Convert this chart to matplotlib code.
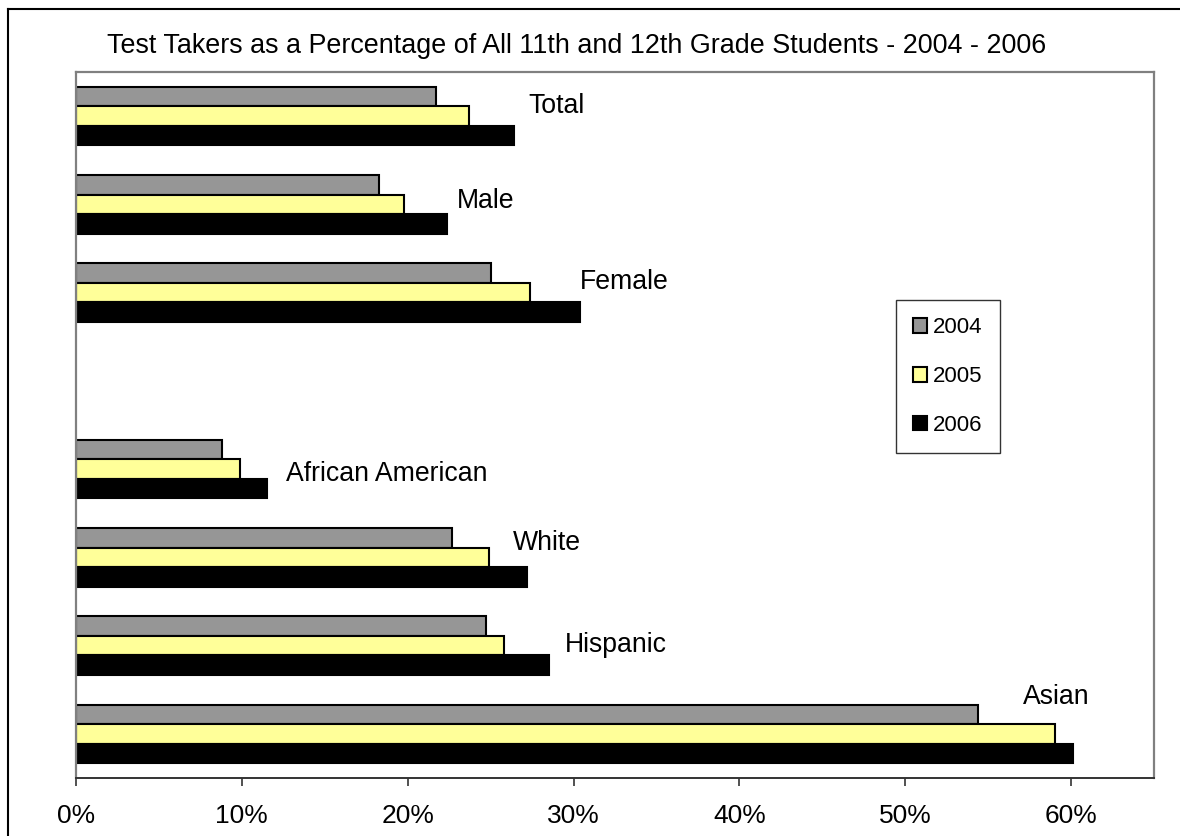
import numpy as np
import matplotlib
matplotlib.use("Agg")
import matplotlib.pyplot as plt
from matplotlib.lines import Line2D
from matplotlib.patches import Patch

plt.rcParams['font.family'] = ['Liberation Sans', 'DejaVu Sans']

# ---- data ----
categories = ["Total", "Male", "Female", "", "African American", "White", "Hispanic", "Asian"]
years = ["2004", "2005", "2006"]
v2004 = [0.217, 0.183, 0.250, np.nan, 0.088, 0.227, 0.247, 0.544]
v2005 = [0.237, 0.198, 0.274, np.nan, 0.099, 0.249, 0.258, 0.590]
v2006 = [0.264, 0.224, 0.304, np.nan, 0.115, 0.272, 0.285, 0.601]
xticks = [0.0, 0.1, 0.2, 0.3, 0.4, 0.5, 0.6]
xtick_labels = ["0%", "10%", "20%", "30%", "40%", "50%", "60%"]
title = "Test Takers as a Percentage of All 11th and 12th Grade Students - 2004 - 2006"

# label placement (data coords: x left edge, y center)
label_pos = {
    "Total": (0.2725, -0.12),
    "Male": (0.230, 0.96),
    "Female": (0.304, 1.88),
    "African American": (0.127, 4.055),
    "White": (0.2633, 4.84),
    "Hispanic": (0.2948, 5.99),
    "Asian": (0.5708, 6.58),
}

colors = ["#969696", "#FFFF99", "#000000"]

W, H = 1180, 836
fig = plt.figure(figsize=(W / 100, H / 100), dpi=100)

# outer frame (left and top visible)
fig.add_artist(Line2D([7.5 / W, 7.5 / W], [0, 1 - 9 / H], transform=fig.transFigure, color="black", lw=1.5))
fig.add_artist(Line2D([7.5 / W, 1], [1 - 9 / H, 1 - 9 / H], transform=fig.transFigure, color="black", lw=1.5))

ax_l, ax_r, ax_t, ax_b = 75.7, 1154.3, 72, 778
ax = fig.add_axes([ax_l / W, 1 - ax_b / H, (ax_r - ax_l) / W, (ax_b - ax_t) / H])

y = np.arange(len(categories))
bh = 0.221
series = [v2004, v2005, v2006]
for i, (vals, c, yr) in enumerate(zip(series, colors, years)):
    ax.barh(y + (i - 1) * bh, vals, height=bh, color=c, edgecolor="black", linewidth=1.5, label=yr)

ax.set_xlim(0, 0.65)
ax.set_ylim(len(categories) - 0.5, -0.5)
ax.set_yticks([])
ax.set_xticks(xticks)
ax.set_xticklabels(xtick_labels)
ax.tick_params(axis="x", direction="out", length=6, width=1.2, color="#333333", labelsize=19, pad=13)

for s in ["left", "top", "right"]:
    ax.spines[s].set_color("#808080")
    ax.spines[s].set_linewidth(1.6)
ax.spines["bottom"].set_color("#333333")
ax.spines["bottom"].set_linewidth(1.4)

for cat in categories:
    if cat in label_pos:
        lx, ly = label_pos[cat]
        ax.text(lx, ly, cat, ha="left", va="center", fontsize=19.2)

fig.text(577 / W, 1 - 46 / H, title, ha="center", va="center", fontsize=19.4)

handles = [Patch(facecolor=c, edgecolor="black", linewidth=1.5) for c in colors]
leg = fig.legend(handles, years, loc="upper left", bbox_to_anchor=(896 / W, 1 - 300 / H),
                 bbox_transform=fig.transFigure, fontsize=16, frameon=True, fancybox=False,
                 handlelength=0.63, handleheight=0.63, handletextpad=0.25, labelspacing=1.25,
                 borderpad=0.78, borderaxespad=0)
leg.get_frame().set_edgecolor("black")
leg.get_frame().set_linewidth(1.0)

fig.savefig("out.png", dpi=100)
